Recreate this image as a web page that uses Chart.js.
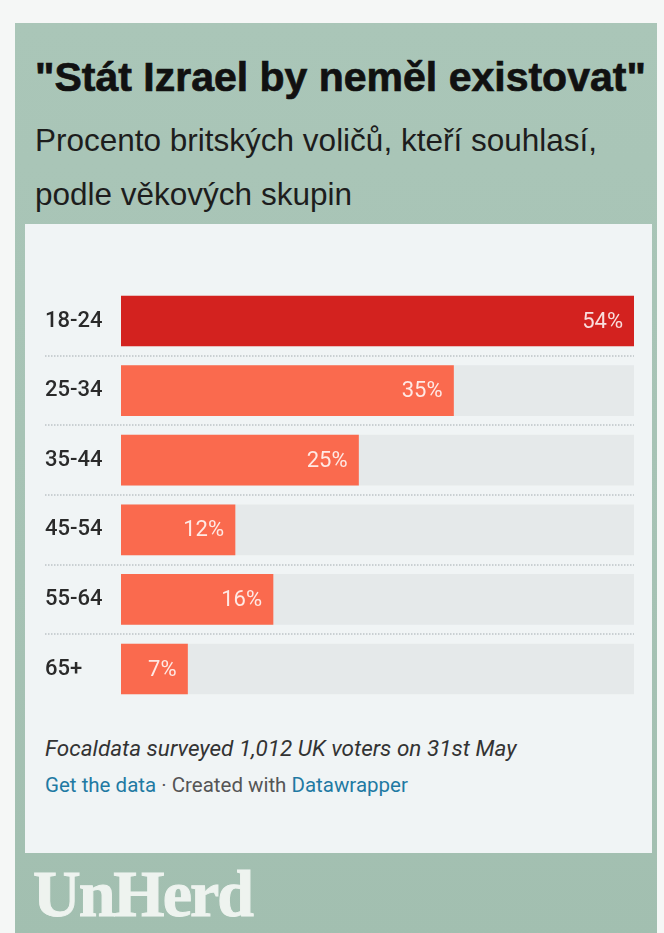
<!DOCTYPE html>
<html>
<head>
<meta charset="utf-8">
<script src="https://cdn.jsdelivr.net/npm/chart.js@4.4.0/dist/chart.umd.min.js"></script>
<style>
  html, body { margin: 0; padding: 0; }
  body { width: 664px; height: 933px; background: #f5f7f6; position: relative; overflow: hidden; }
  #green { position: absolute; left: 15px; top: 23px; width: 642px; height: 920px;
           background: linear-gradient(180deg, #aac6b8 0%, #a6c2b4 60%, #a2bfb0 100%); }
  #title { position: absolute; left: 35px; top: 54px; margin: 0; font-family: "Liberation Sans", Arial, sans-serif;
           font-weight: bold; font-size: 41px; color: #111; white-space: nowrap; line-height: 1.15;
           -webkit-text-stroke: 0.7px #111; }
  #sub { position: absolute; left: 35px; top: 113px; margin: 0; font-family: "Liberation Sans", Arial, sans-serif;
         font-size: 31.5px; color: #1d1d1d; line-height: 54px; white-space: nowrap; }
  #inner { position: absolute; left: 25px; top: 224px; width: 627px; height: 629px; background: #f0f4f5; }
  #wrap { position: absolute; left: 45px; top: 273px; width: 600px; height: 444px; }
  #note { position: absolute; left: 45px; top: 735px; font-family: Roboto, sans-serif; font-style: italic;
          font-size: 22.5px; color: #333; white-space: nowrap; }
  #credit { position: absolute; left: 45px; top: 773px; font-family: Roboto, sans-serif;
            font-size: 20.5px; color: #555; white-space: nowrap; }
  #credit .lnk { color: #1f7aa3; }
  #logo { position: absolute; left: 33px; top: 861px; font-family: "Liberation Serif", "DejaVu Serif", serif;
          font-weight: bold; font-size: 66px; color: #eef3ef; letter-spacing: -2px; line-height: 1;
          -webkit-text-stroke: 1px #eef3ef; }
</style>
</head>
<body>
<div id="green"></div>
<div id="title">"Stát Izrael by neměl existovat"</div>
<div id="sub">Procento britských voličů, kteří souhlasí,<br>podle věkových skupin</div>
<div id="inner"></div>
<div id="wrap"><canvas id="c"></canvas></div>
<div id="note">Focaldata surveyed 1,012 UK voters on 31st May</div>
<div id="credit"><span class="lnk">Get the data</span> · Created with <span class="lnk">Datawrapper</span></div>
<div id="logo">UnHerd</div>
<script>
const categories = ["18-24", "25-34", "35-44", "45-54", "55-64", "65+"];
const values = [54, 35, 25, 12, 16, 7];
const trackValues = [54, 54, 54, 54, 54, 54];
const barColors = ["#d3221f", "#fa6a4e", "#fa6a4e", "#fa6a4e", "#fa6a4e", "#fa6a4e"];
const axisMax = 54;

const separators = {
  id: 'separators',
  beforeDatasetsDraw(chart) {
    const { ctx, chartArea, scales } = chart;
    const y = scales.y;
    ctx.save();
    ctx.strokeStyle = '#bcc3c6';
    ctx.lineWidth = 1.5;
    ctx.setLineDash([1.5, 1.5]);
    for (let i = 0; i < categories.length - 1; i++) {
      const py = Math.round((y.getPixelForValue(i) + y.getPixelForValue(i + 1)) / 2);
      ctx.beginPath();
      ctx.moveTo(0, py);
      ctx.lineTo(chartArea.right, py);
      ctx.stroke();
    }
    ctx.restore();
  }
};

const valueLabels = {
  id: 'valueLabels',
  afterDatasetsDraw(chart) {
    const { ctx } = chart;
    const meta = chart.getDatasetMeta(0);
    ctx.save();
    ctx.font = '22px Roboto';
    ctx.fillStyle = 'rgba(255,255,255,0.85)';
    ctx.textAlign = 'right';
    ctx.textBaseline = 'middle';
    meta.data.forEach((bar, i) => {
      ctx.fillText(values[i] + '%', bar.x - 11, bar.y + 1);
    });
    ctx.restore();
  }
};

new Chart(document.getElementById('c'), {
  type: 'bar',
  data: {
    labels: categories,
    datasets: [
      { data: values, backgroundColor: barColors, barThickness: 50, order: 1, grouped: false },
      { data: trackValues, backgroundColor: '#e5e9ea', barThickness: 50, order: 2, grouped: false }
    ]
  },
  options: {
    indexAxis: 'y',
    responsive: true,
    maintainAspectRatio: false,
    animation: false,
    layout: { padding: { left: 0, right: 11, top: 0, bottom: 0 } },
    plugins: { legend: { display: false }, tooltip: { enabled: false } },
    scales: {
      x: { min: 0, max: axisMax, display: false },
      y: {
        grid: { display: false },
        border: { display: false },
        ticks: { font: { family: 'Roboto', size: 22, weight: '500' }, color: '#2a2a2a', crossAlign: 'far', padding: 0 },
        afterFit(s) { s.width = 76; }
      }
    }
  },
  plugins: [separators, valueLabels]
});
</script>
</body>
</html>
